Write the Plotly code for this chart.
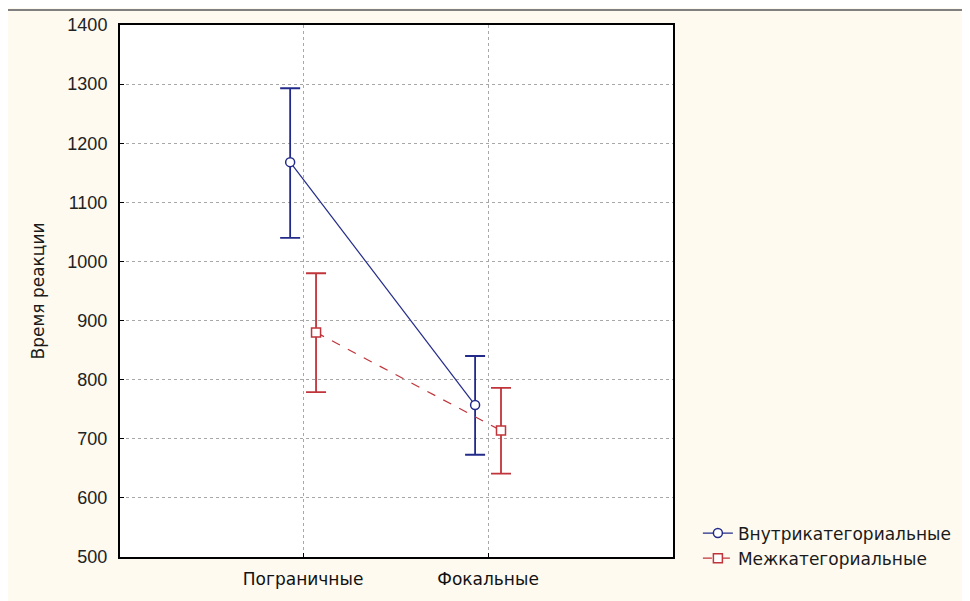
import plotly.graph_objects as go

categories = ["Пограничные", "Фокальные"]
cat_pos = [0, 1]
y_ticks = [500, 600, 700, 800, 900, 1000, 1100, 1200, 1300, 1400]

within_name = "Внутрикатегориальные"
within_mean = [1168, 757]
within_upper = [1293, 840]
within_lower = [1040, 673]

between_name = "Межкатегориальные"
between_mean = [880, 714]
between_upper = [980, 786]
between_lower = [779, 641]

offset = 0.07
blue = "#232b8a"
red = "#c0343a"

fig = go.Figure()

def add_series(name, mean, upper, lower, color, dash, symbol, shift):
    fig.add_trace(go.Scatter(
        x=[p + shift for p in cat_pos], y=mean, name=name,
        mode="lines+markers",
        line=dict(color=color, width=1.2, dash=dash),
        marker=dict(symbol=symbol, size=9, color="white", line=dict(color=color, width=1.5)),
        error_y=dict(type="data", symmetric=False,
                     array=[u - m for u, m in zip(upper, mean)],
                     arrayminus=[m - l for m, l in zip(mean, lower)],
                     color=color, thickness=1.8, width=10),
    ))

add_series(within_name, within_mean, within_upper, within_lower, blue, "solid", "circle", -offset)
add_series(between_name, between_mean, between_upper, between_lower, red, "dash", "square", offset)

fig.update_layout(
    width=970, height=601,
    margin=dict(l=112, r=305, t=17, b=52, autoexpand=False),
    paper_bgcolor="#fefaf0",
    plot_bgcolor="white",
    font=dict(family="Liberation Sans, Arial, sans-serif", color="#1a1a1a"),
    showlegend=True,
    legend=dict(x=1.045, y=0.078, xanchor="left", yanchor="top",
                bgcolor="rgba(0,0,0,0)", font=dict(size=17, family="DejaVu Sans"),
                tracegroupgap=0, itemwidth=30),
    shapes=[dict(type="line", xref="paper", yref="paper", x0=-0.2025, x1=1.54,
                 y0=1.028, y1=1.028, line=dict(color="#808080", width=2))],
)

fig.update_xaxes(
    range=[-0.99, 2.0], tickvals=cat_pos, ticktext=categories,
    showgrid=True, gridcolor="#a8a8a8", griddash="dot", gridwidth=1,
    ticks="inside", ticklen=4, tickcolor="black",
    showline=True, linecolor="black", linewidth=2, mirror=True,
    tickfont=dict(size=17, family="DejaVu Sans", color="#111"),
    ticklabelstandoff=6,
    zeroline=False,
)
fig.update_yaxes(
    range=[500, 1400], tickvals=y_ticks,
    showgrid=True, gridcolor="#a8a8a8", griddash="dot", gridwidth=1,
    ticks="inside", ticklen=4, tickcolor="black",
    showline=True, linecolor="black", linewidth=2, mirror=True,
    tickfont=dict(size=18, color="#222"),
    ticklabelstandoff=7,
    title=dict(text="Время реакции", font=dict(size=17, family="DejaVu Sans"), standoff=18),
    zeroline=False,
)

fig.write_html("out.html")
